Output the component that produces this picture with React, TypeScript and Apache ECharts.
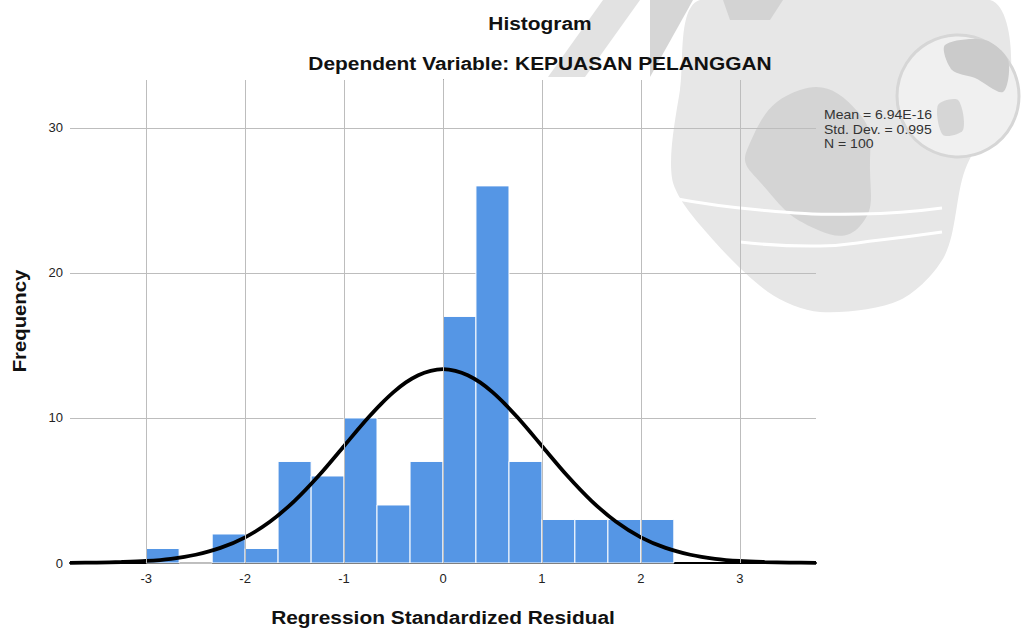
import React, { useEffect, useRef } from "react";
import * as echarts from "echarts";

// Histogram bins (edges in standardized residual units) and frequencies
const binEdges = [-3, -2.667, -2.333, -2, -1.667, -1.333, -1, -0.667, -0.333, 0, 0.333, 0.667, 1, 1.333, 1.667, 2, 2.333];
const binCounts = [1, 0, 2, 1, 7, 6, 10, 4, 7, 17, 26, 7, 3, 3, 3, 3];

// Normal curve
const curveX = [-3.77, -3.5, -3.25, -3, -2.75, -2.5, -2.25, -2, -1.75, -1.5, -1.25, -1, -0.875, -0.75, -0.625, -0.5, -0.375, -0.25, -0.125, 0, 0.125, 0.25, 0.375, 0.5, 0.625, 0.75, 0.875, 1, 1.25, 1.5, 1.75, 2, 2.25, 2.5, 2.75, 3, 3.25, 3.5, 3.77];
const curveY = [0.01, 0.03, 0.07, 0.14, 0.29, 0.57, 1.04, 1.77, 2.84, 4.29, 6.07, 8.07, 9.08, 10.06, 10.97, 11.78, 12.45, 12.95, 13.25, 13.36, 13.25, 12.95, 12.45, 11.78, 10.97, 10.06, 9.08, 8.07, 6.07, 4.29, 2.84, 1.77, 1.04, 0.57, 0.29, 0.14, 0.07, 0.03, 0.01];

const xTicks = [-3, -2, -1, 0, 1, 2, 3];
const statsLines = ["Mean = 6.94E-16", "Std. Dev. = 0.995", "N = 100"];

const titleText = "Histogram";
const subtitleText = "Dependent Variable: KEPUASAN PELANGGAN";
const xAxisName = "Regression Standardized Residual";
const yAxisName = "Frequency";

const FONT = "'Liberation Sans', Arial, sans-serif";

export default function App() {
  const ref = useRef<HTMLDivElement>(null);
  useEffect(() => {
    if (!ref.current) return;
    const chart = echarts.init(ref.current, null, { renderer: "svg" });
    const barData = binCounts.map((c, i) => [binEdges[i], binEdges[i + 1], c]);
    const lineData = curveX.map((x, i) => [x, curveY[i]]);

    // faint background watermark (logo behind the chart)
    const watermark: any[] = [
      { type: "polygon", z: -10, silent: true, shape: { points: [[548, 77], [585, 77], [640, 0], [603, 0]] }, style: { fill: "#e2e2e2" } },
      { type: "polygon", z: -10, silent: true, shape: { points: [[650, 0], [693, 0], [650, 77]] }, style: { fill: "#d6d6d6" } },
      { type: "polygon", z: -10, silent: true, shape: { smooth: 0.3, points: [[700, 0], [990, 0], [1010, 80], [965, 170], [945, 255], [900, 300], [820, 312], [768, 292], [700, 225], [672, 178], [680, 90]] }, style: { fill: "#e7e7e7" } },
      { type: "polygon", z: -9, silent: true, shape: { points: [[723, 0], [783, 0], [770, 20], [730, 20]] }, style: { fill: "#d3d3d3" } },
      { type: "polygon", z: -9, silent: true, shape: { smooth: 0.5, points: [[800, 90], [858, 112], [870, 170], [860, 226], [818, 230], [760, 182], [747, 150]] }, style: { fill: "#d4d4d4" } },
      { type: "polyline", z: -9, silent: true, shape: { smooth: 0.5, points: [[672, 198], [760, 210], [860, 214], [942, 208]] }, style: { stroke: "#ffffff", lineWidth: 3, fill: "none" } },
      { type: "polyline", z: -9, silent: true, shape: { smooth: 0.5, points: [[740, 242], [820, 246], [880, 240], [942, 232]] }, style: { stroke: "#ffffff", lineWidth: 3, fill: "none" } },
      { type: "circle", z: -8, silent: true, shape: { cx: 958, cy: 96, r: 61 }, style: { fill: "#f0f0f0", stroke: "#d6d6d6", lineWidth: 3 } },
      { type: "polygon", z: -7, silent: true, shape: { smooth: 0.3, points: [[945, 45], [985, 40], [1008, 60], [1003, 92], [975, 78], [952, 70]] }, style: { fill: "#cbcbcb" } },
      { type: "polygon", z: -7, silent: true, shape: { smooth: 0.3, points: [[938, 105], [958, 100], [963, 130], [943, 135]] }, style: { fill: "#d6d6d6" } },
    ];

    const texts: any[] = [
      { type: "text", silent: true, x: 540, y: 23, scaleX: 1.1, style: { text: titleText, x: 0, y: 0, align: "center", verticalAlign: "middle", font: `bold 19px ${FONT}`, fill: "#111" } },
      { type: "text", silent: true, x: 540, y: 63, scaleX: 1.1, style: { text: subtitleText, x: 0, y: 0, align: "center", verticalAlign: "middle", font: `bold 19px ${FONT}`, fill: "#111" } },
      { type: "text", silent: true, x: 443, y: 617, scaleX: 1.1, style: { text: xAxisName, x: 0, y: 0, align: "center", verticalAlign: "middle", font: `bold 19px ${FONT}`, fill: "#111" } },
      { type: "text", silent: true, x: 19, y: 321, rotation: Math.PI / 2, scaleX: 1.07, style: { text: yAxisName, x: 0, y: 0, align: "center", verticalAlign: "middle", font: `bold 19px ${FONT}`, fill: "#111" } },
      { type: "text", silent: true, x: 824, y: 108, scaleX: 1.08, style: { text: statsLines.join("\n"), x: 0, y: 0, align: "left", verticalAlign: "top", font: `13px ${FONT}`, lineHeight: 14.2, fill: "#333" } },
    ];

    chart.setOption({
      animation: false,
      backgroundColor: "#ffffff",
      textStyle: { fontFamily: FONT },
      grid: { left: 70, right: 205, top: 80, bottom: 65, containLabel: false },
      xAxis: {
        type: "value",
        min: -3.77,
        max: 3.77,
        axisLine: { show: true, onZero: false, lineStyle: { color: "#000", width: 2 } },
        axisTick: { show: false },
        splitLine: { show: false },
        axisLabel: {
          customValues: xTicks,
          color: "#222",
          fontSize: 13,
          fontFamily: FONT,
          margin: 9,
        },
      },
      yAxis: {
        type: "value",
        min: 0,
        max: 33.3,
        interval: 10,
        axisLine: { show: true, lineStyle: { color: "#222", width: 1 } },
        axisTick: { show: false },
        axisLabel: { color: "#222", fontSize: 13, fontFamily: FONT, margin: 7, showMaxLabel: false },
        splitLine: { show: true, showMaxLine: false, lineStyle: { color: "#bdbdbd", width: 1 } },
      },
      graphic: [...watermark, ...texts],
      series: [
        {
          type: "line",
          data: [],
          z: 1,
          silent: true,
          markLine: {
            silent: true,
            symbol: "none",
            label: { show: false },
            lineStyle: { color: "#bdbdbd", width: 1, type: "solid" },
            data: xTicks.map((v) => ({ xAxis: v })),
          },
        },
        {
          type: "custom",
          z: 2,
          data: barData,
          renderItem: (params: any, api: any) => {
            const p0 = api.coord([api.value(0), api.value(2)]);
            const p1 = api.coord([api.value(1), 0]);
            return {
              type: "rect",
              shape: { x: p0[0], y: p0[1], width: p1[0] - p0[0], height: p1[1] - p0[1] },
              style: { fill: "#5596e5", stroke: "#ffffff", lineWidth: 1 },
            };
          },
        },
        {
          type: "line",
          z: 3,
          data: lineData,
          smooth: 0.3,
          showSymbol: false,
          symbol: "none",
          lineStyle: { color: "#000", width: 3.8 },
          silent: true,
        },
      ],
    });
    return () => chart.dispose();
  }, []);
  return <div ref={ref} style={{ position: "fixed", left: 0, top: 0, width: 1021, height: 628 }} />;
}
